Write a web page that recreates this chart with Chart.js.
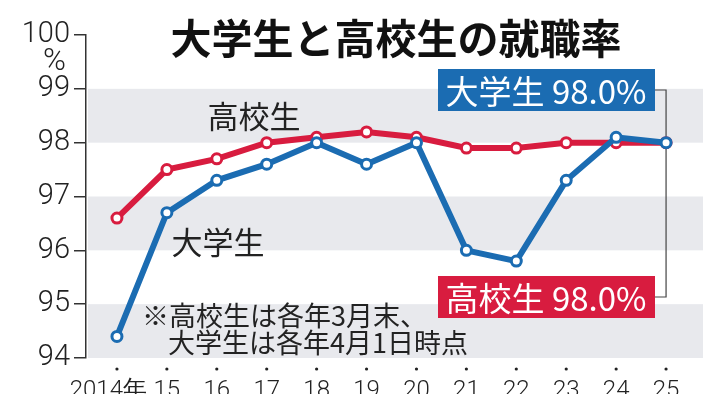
<!DOCTYPE html>
<html>
<head>
<meta charset="utf-8">
<script src="https://cdn.jsdelivr.net/npm/chart.js@4"></script>
<style>
  html, body { margin: 0; padding: 0; background: #fff; }
  #wrap { width: 718px; height: 394px; }
</style>
</head>
<body>
<div id="wrap"><canvas id="chart" width="718" height="394"></canvas></div>
<script>
// chart data
const years = [2014, 2015, 2016, 2017, 2018, 2019, 2020, 2021, 2022, 2023, 2024, 2025];
const yearLabels = ['2014年', '15', '16', '17', '18', '19', '20', '21', '22', '23', '24', '25'];
const daigakusei = [94.4, 96.7, 97.3, 97.6, 98.0, 97.6, 98.0, 96.0, 95.8, 97.3, 98.1, 98.0];
const koukousei = [96.6, 97.5, 97.7, 98.0, 98.1, 98.2, 98.1, 97.9, 97.9, 98.0, 98.0, 98.0];
const yTicks = [94, 95, 96, 97, 98, 99, 100];
const bands = [[94, 95], [96, 97], [98, 99]];

const BLUE = '#1b6cb2';
const RED = '#d81c3f';
const INK = '#222';
const JP = '"Noto Sans CJK JP", "Noto Sans", sans-serif';
const NUM = 'Roboto, "Liberation Sans", sans-serif';

const toPoints = (vals) => vals.map((v, i) => ({ x: years[i], y: v }));

// everything that isn't a data mark: title, bands, notes, end boxes
const decorations = {
  id: 'decorations',
  beforeDatasetsDraw(chart) {
    const { ctx, chartArea } = chart;
    const y = chart.scales.y;
    ctx.save();
    ctx.fillStyle = '#e8e9ed';
    bands.forEach(([lo, hi]) => {
      const top = y.getPixelForValue(hi);
      ctx.fillRect(chartArea.left + 2, top, chartArea.right - chartArea.left - 2, y.getPixelForValue(lo) - top);
    });

    // bracket joining the two end boxes
    const x = chart.scales.x;
    const bx = x.getPixelForValue(years[years.length - 1]);
    ctx.strokeStyle = '#444';
    ctx.lineWidth = 1.2;
    ctx.beginPath();
    ctx.moveTo(655, 90);
    ctx.lineTo(bx, 90);
    ctx.lineTo(bx, 297);
    ctx.lineTo(654, 297);
    ctx.stroke();
    ctx.restore();
  },
  afterDraw(chart) {
    const { ctx, chartArea } = chart;
    const x = chart.scales.x;
    const y = chart.scales.y;
    ctx.save();

    // title
    ctx.fillStyle = '#111';
    ctx.font = '700 41px ' + JP;
    ctx.textAlign = 'center';
    ctx.textBaseline = 'middle';
    ctx.fillText('大学生と高校生の就職率', 396, 38);

    // unit under the 100 tick
    ctx.font = '300 31px ' + NUM;
    ctx.fillStyle = INK;
    ctx.textAlign = 'right';
    ctx.fillText('%', 66, y.getPixelForValue(100) + 27);

    // x axis dots and year labels
    ctx.textBaseline = 'top';
    ctx.font = '300 24px ' + NUM;
    years.forEach((yr, i) => {
      const px = x.getPixelForValue(yr);
      ctx.beginPath();
      ctx.arc(px, chartArea.bottom + 11, 1.6, 0, Math.PI * 2);
      ctx.fill();
      if (i === 0) {
        ctx.textAlign = 'right';
        ctx.fillText(yearLabels[i], px + 30, chartArea.bottom + 21);
      } else {
        ctx.textAlign = 'center';
        ctx.fillText(yearLabels[i], px, chartArea.bottom + 21);
      }
    });

    // series names next to the lines
    ctx.textBaseline = 'middle';
    ctx.textAlign = 'center';
    ctx.font = '400 31px ' + JP;
    ctx.fillText('高校生', 254, 116);
    ctx.fillText('大学生', 218, 242);

    // note
    ctx.textAlign = 'left';
    ctx.font = '400 27px ' + JP;
    ctx.fillText('※高校生は各年3月末、', 142, 316);
    ctx.fillText('大学生は各年4月1日時点', 168, 343);

    // end-value boxes
    const last = (arr) => arr[arr.length - 1].toFixed(1) + '%';
    const box = (label, color, top) => {
      ctx.fillStyle = color;
      ctx.fillRect(438, top, 217, 42);
      ctx.fillStyle = '#fff';
      ctx.font = '400 33px ' + JP;
      ctx.textAlign = 'center';
      ctx.fillText(label, 546, top + 22);
    };
    box('大学生 ' + last(daigakusei), BLUE, 69);
    box('高校生 ' + last(koukousei), RED, 276);
    ctx.restore();
  }
};

new Chart(document.getElementById('chart'), {
  type: 'line',
  data: {
    datasets: [
      {
        label: '大学生',
        data: toPoints(daigakusei),
        borderColor: BLUE,
        borderWidth: 6,
        pointRadius: 5,
        pointBorderWidth: 3,
        pointBackgroundColor: '#fff',
        pointBorderColor: BLUE
      },
      {
        label: '高校生',
        data: toPoints(koukousei),
        borderColor: RED,
        borderWidth: 6,
        pointRadius: 5,
        pointBorderWidth: 3,
        pointBackgroundColor: '#fff',
        pointBorderColor: RED
      }
    ]
  },
  options: {
    responsive: false,
    animation: false,
    devicePixelRatio: 1,
    layout: { padding: { top: 35, right: 15, bottom: 0, left: 0 } },
    plugins: {
      legend: { display: false },
      tooltip: { enabled: false }
    },
    scales: {
      x: {
        type: 'linear',
        min: 2013.38,
        max: 2025.74,
        ticks: { display: false },
        grid: { display: false },
        border: { display: false },
        afterFit: (scale) => { scale.height = 36; }
      },
      y: {
        min: 94,
        max: 100,
        afterBuildTicks: (scale) => { scale.ticks = yTicks.map(v => ({ value: v })); },
        ticks: {
          color: INK,
          padding: 4,
          font: { family: NUM, size: 29, weight: '300' },
          callback: (v) => String(v)
        },
        grid: {
          drawOnChartArea: false,
          drawTicks: true,
          tickLength: 12,
          color: '#333',
          lineWidth: 1.5
        },
        border: { display: true, color: '#333', width: 1.5 },
        afterFit: (scale) => { scale.width = 86; }
      }
    }
  },
  plugins: [decorations]
});
</script>
</body>
</html>
